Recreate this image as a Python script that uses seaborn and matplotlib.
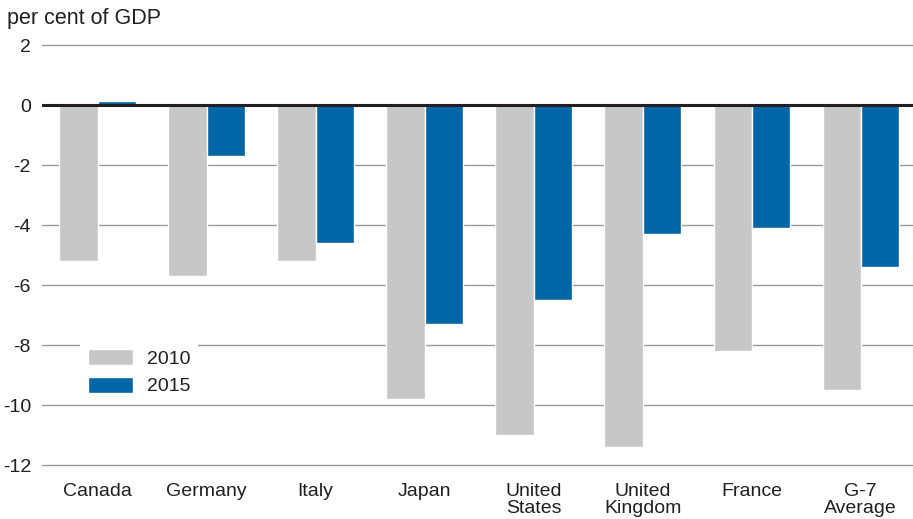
import pandas as pd
import matplotlib.pyplot as plt
import seaborn as sns

# Budget balance by country, per cent of GDP
countries = ["Canada", "Germany", "Italy", "Japan", "United\nStates",
             "United\nKingdom", "France", "G-7\nAverage"]
balance_2010 = [-5.2, -5.7, -5.2, -9.8, -11.0, -11.4, -8.2, -9.5]
balance_2015 = [0.15, -1.7, -4.6, -7.3, -6.5, -4.3, -4.1, -5.4]
years = ["2010", "2015"]

df = pd.DataFrame({
    "country": countries * 2,
    "year": [years[0]] * len(countries) + [years[1]] * len(countries),
    "balance": balance_2010 + balance_2015,
})

sns.set_style("white")
plt.rcParams["font.family"] = ["Liberation Sans", "DejaVu Sans"]
plt.rcParams["axes.unicode_minus"] = False

fig = plt.figure(figsize=(9.13, 5.19), dpi=100)
ax = fig.add_axes([0.046, 0.104, 0.954, 0.809])

sns.barplot(
    data=df, x="country", y="balance", hue="year",
    palette=["#c6c7c9", "#0066a6"], width=0.7, gap=0,
    saturation=1, errorbar=None, ax=ax, zorder=2
)

# Gridlines and bold zero line
for yv in [2, -2, -4, -6, -8, -10, -12]:
    ax.axhline(yv, color="#9a9a9a", lw=1.0, zorder=1, clip_on=False)
ax.axhline(0, color="#231f20", lw=2.2, zorder=3)

ax.set_ylim(-12, 2)
ax.set_xlim(-0.51, 7.48)
ax.set_yticks(range(-12, 3, 2))
ax.set_xlabel("")
ax.set_ylabel("")
ax.tick_params(axis="both", length=0, labelsize=14, colors="#231f20")
ax.tick_params(axis="y", pad=8)
ax.tick_params(axis="x", pad=13)
for lbl in ax.get_xticklabels():
    lbl.set_linespacing(1.0)
for s in ax.spines.values():
    s.set_visible(False)

fig.text(0.008, 0.965, "per cent of GDP", fontsize=15.5, color="#231f20",
         va="center", ha="left")

leg = ax.legend(loc="upper left", bbox_to_anchor=(0.033, 0.318),
                frameon=True, facecolor="white", edgecolor="none",
                framealpha=1, fancybox=False, fontsize=14,
                handlelength=2.3, handleheight=0.9, labelspacing=0.45,
                borderpad=0.4, handletextpad=0.7)
leg.set_zorder(5)
for t in leg.get_texts():
    t.set_color("#231f20")

plt.savefig("out.png", dpi=100)
